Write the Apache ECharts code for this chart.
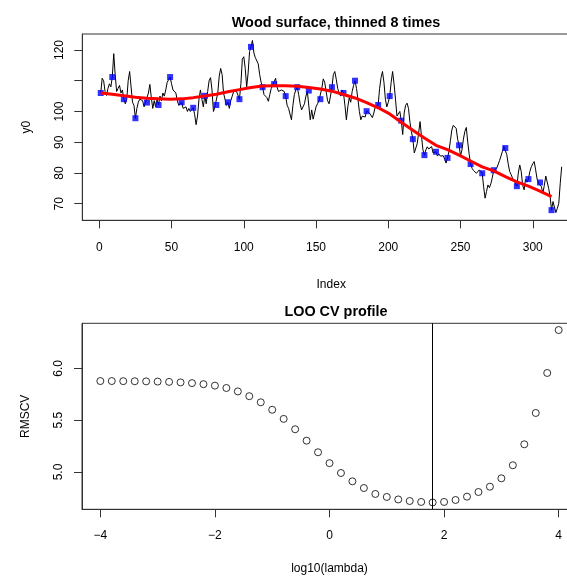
<!DOCTYPE html>
<html>
<head>
<meta charset="utf-8">
<script src="https://cdn.jsdelivr.net/npm/echarts/dist/echarts.min.js"></script>
<style>
  html, body { margin: 0; padding: 0; background: #fff; overflow: hidden; width: 567px; height: 577px; }
  /* the plotting area runs past the right edge of the page */
  #chart { width: 600px; height: 577px; }
</style>
</head>
<body>
<div id="chart"></div>
<script>
// Wood surface profile, 320 samples (index 1..320)
const y0 = [
  106.0, 110.8, 110.0, 106.5, 105.2, 107.5, 109.0, 108.0, 111.2, 118.8,
  112.0, 106.5, 107.5, 108.5, 106.0, 107.0, 104.0, 102.5, 104.0, 110.0,
  113.0, 108.0, 103.0, 102.0, 97.8, 101.0, 103.0, 104.0, 104.0, 103.5,
  101.5, 103.0, 102.9, 106.0, 108.8, 104.5, 101.0, 103.5, 101.5, 104.0,
  102.1, 105.0, 103.5, 106.0, 105.0, 107.0, 109.5, 110.0, 111.2, 109.0,
  107.0, 106.5, 106.0, 103.5, 102.0, 102.5, 103.0, 101.0, 100.5, 101.5,
  100.0, 101.0, 100.0, 100.5, 101.2, 99.0, 95.7, 98.5, 104.0, 107.0,
  104.0, 101.5, 105.1, 102.5, 106.5, 110.0, 111.0, 107.0, 100.0, 101.5,
  102.1, 106.0, 111.5, 114.0, 112.0, 106.0, 104.0, 102.0, 103.0, 101.0,
  103.5, 105.0, 106.5, 106.0, 106.5, 106.0, 104.0, 109.0, 117.0, 117.8,
  114.0, 108.0, 112.5, 119.5, 121.0, 123.1, 119.0, 117.5, 117.8, 115.5,
  112.0, 109.5, 107.9, 105.5, 105.0, 104.5, 103.3, 105.5, 107.5, 108.5,
  108.9, 110.8, 108.0, 106.5, 106.0, 107.0, 107.5, 106.5, 105.0, 102.0,
  101.0, 100.5, 97.3, 102.0, 105.5, 107.0, 107.9, 105.5, 102.5, 100.5,
  100.0, 102.5, 105.0, 106.5, 106.8, 97.3, 100.5, 97.5, 99.5, 101.5,
  102.5, 103.5, 104.0, 107.5, 110.6, 109.5, 106.5, 103.5, 102.5, 105.0,
  107.9, 112.0, 113.0, 110.5, 107.5, 106.0, 105.0, 107.0, 106.0, 102.0,
  97.3, 101.5, 104.5, 103.0, 106.5, 108.5, 110.0, 107.5, 104.0, 100.0,
  97.3, 98.5, 98.8, 98.2, 100.1, 99.8, 99.5, 99.0, 98.0, 99.5,
  101.5, 102.1, 102.1, 107.5, 111.0, 113.0, 109.5, 104.0, 101.5, 103.0,
  105.0, 109.5, 113.0, 109.0, 104.0, 98.5, 98.9, 100.0, 97.0, 92.5,
  99.5, 102.0, 102.7, 101.0, 96.5, 93.5, 91.0, 86.5, 85.9, 89.5,
  93.0, 96.7, 91.9, 87.5, 85.8, 87.5, 88.5, 87.8, 88.0, 88.6,
  86.5, 86.5, 86.9, 85.5, 86.2, 85.5, 85.3, 85.6, 84.5, 83.2,
  84.9, 87.0, 90.5, 94.0, 95.5, 95.9, 94.5, 91.0, 89.0, 85.5,
  87.5, 91.0, 93.5, 94.8, 90.0, 86.0, 82.9, 81.5, 80.8, 80.5,
  79.9, 80.5, 81.0, 80.5, 79.9, 75.5, 71.8, 74.0, 76.1, 75.2,
  76.5, 78.5, 80.9, 81.0, 81.5, 82.1, 84.0, 85.5, 87.0, 88.6,
  88.1, 86.0, 83.0, 80.5, 79.5, 78.3, 78.5, 76.7, 75.7, 80.0,
  82.6, 80.5, 76.0, 74.5, 78.0, 77.0, 78.0, 80.5, 82.0, 83.0,
  83.7, 81.0, 78.0, 76.7, 76.9, 75.5, 73.4, 76.0, 79.0, 79.4,
  75.0, 72.3, 67.9, 70.7, 70.7, 67.1, 68.5, 70.1, 76.5, 82.0
];

// Every 8th sample is kept (indices 1, 9, 17, ...)
const thinStep = 8;

// Smoothed curve evaluated at the thinned indices
const ySmooth = [
  106.0, 105.6, 105.1, 104.6, 104.3, 104.1, 104.0, 104.1, 104.5, 105.0,
  105.6, 106.4, 107.1, 107.8, 108.3, 108.4, 108.4, 108.2, 107.8, 107.3,
  106.6, 105.5, 104.4, 102.9, 101.2, 99.2, 96.5, 93.9, 91.4, 89.0,
  87.6, 85.8, 83.9, 82.0, 80.7, 78.8, 77.1, 75.7, 74.1, 72.3
];

// Leave-one-out cross-validation profile
const logLambda = [
  -4.0, -3.8, -3.6, -3.4, -3.2, -3.0, -2.8, -2.6, -2.4, -2.2,
  -2.0, -1.8, -1.6, -1.4, -1.2, -1.0, -0.8, -0.6, -0.4, -0.2,
  0.0, 0.2, 0.4, 0.6, 0.8, 1.0, 1.2, 1.4, 1.6, 1.8,
  2.0, 2.2, 2.4, 2.6, 2.8, 3.0, 3.2, 3.4, 3.6, 3.8, 4.0
];
const rmscv = [
  5.877, 5.877, 5.876, 5.875, 5.874, 5.872, 5.869, 5.864, 5.857, 5.847,
  5.833, 5.810, 5.777, 5.731, 5.672, 5.600, 5.512, 5.412, 5.302, 5.190,
  5.085, 4.990, 4.910, 4.845, 4.788, 4.759, 4.735, 4.720, 4.711, 4.706,
  4.711, 4.730, 4.762, 4.807, 4.858, 4.939, 5.065, 5.267, 5.569, 5.955, 6.369
];
const bestLogLambda = 1.8;

// Axis tick positions
const indexTicks = [0, 50, 100, 150, 200, 250, 300];
const y0Ticks = [70, 80, 90, 100, 110, 120];
const y0Labels = [70, 80, 90, 100, 120];
const lambdaTicks = [-4, -2, 0, 2, 4];
const rmsTicks = [5.0, 5.5, 6.0];

const lineData = y0.map((v, k) => [k + 1, v]);
const thinIdx = [];
for (let i = 1; i <= y0.length; i += thinStep) thinIdx.push(i);
const thinData = thinIdx.map(i => [i, y0[i - 1]]);
const smoothData = thinIdx.slice(0, ySmooth.length).map((i, k) => [i, ySmooth[k]]);
const cvData = logLambda.map((x, k) => [x, rmscv[k]]);

const FONT = '"Liberation Sans", Arial, Helvetica, sans-serif';
const INK = '#000';
const FRAME = '#333';

// typographic minus for negative tick labels
const signed = v => String(v).replace('-', '\u2212');

function xAxisCfg(grid, min, max, ticks, name, nameGap, margin) {
  return {
    gridIndex: grid, type: 'value', min: min, max: max,
    name: name, nameLocation: 'middle', nameGap: nameGap,
    nameTextStyle: { fontSize: 12, color: INK, fontFamily: FONT },
    axisLine: { show: true, onZero: false, lineStyle: { color: FRAME, width: 1 } },
    axisTick: { show: true, customValues: ticks, length: 8, lineStyle: { color: FRAME, width: 1 } },
    axisLabel: { customValues: ticks, margin: margin, fontSize: 12, color: INK, fontFamily: FONT, formatter: signed },
    splitLine: { show: false }
  };
}
function yAxisCfg(grid, min, max, ticks, labels, name, fmt) {
  return {
    gridIndex: grid, type: 'value', min: min, max: max,
    name: name, nameLocation: 'middle', nameGap: 50,
    nameTextStyle: { fontSize: 12, color: INK, fontFamily: FONT },
    axisLine: { show: true, onZero: false, lineStyle: { color: FRAME, width: 1 } },
    axisTick: { show: true, customValues: ticks, length: 8, lineStyle: { color: FRAME, width: 1 } },
    axisLabel: { customValues: labels, rotate: 90, margin: 17, fontSize: 12, color: INK, fontFamily: FONT, formatter: fmt },
    splitLine: { show: false }
  };
}

const chart = echarts.init(document.getElementById('chart'), null, { renderer: 'canvas' });
chart.setOption({
  animation: false,
  backgroundColor: '#fff',
  textStyle: { fontFamily: FONT },
  title: [
    { text: 'Wood surface, thinned 8 times', left: 331, top: 11, textAlign: 'center',
      textStyle: { fontSize: 14.4, fontWeight: 'bold', color: INK, fontFamily: FONT } },
    { text: 'LOO CV profile', left: 331, top: 300, textAlign: 'center',
      textStyle: { fontSize: 14.4, fontWeight: 'bold', color: INK, fontFamily: FONT } }
  ],
  grid: [
    { left: 82.3, top: 34, width: 497.8, height: 186.3, show: true, borderColor: FRAME, borderWidth: 1 },
    { left: 82, top: 323.3, width: 495, height: 186, show: true, borderColor: FRAME, borderWidth: 1 }
  ],
  xAxis: [
    xAxisCfg(0, -11.76, 332.76, indexTicks, 'Index', 58, 21),
    xAxisCfg(1, -4.32, 4.32, lambdaTicks, 'log10(lambda)', 53, 20)
  ],
  yAxis: [
    yAxisCfg(0, 64.6, 125.2, y0Ticks, y0Labels, 'y0', v => String(v)),
    yAxisCfg(1, 4.640, 6.434, rmsTicks, rmsTicks, 'RMSCV', v => Number(v).toFixed(1))
  ],
  series: [
    { type: 'line', xAxisIndex: 0, yAxisIndex: 0, data: lineData, showSymbol: false, silent: true,
      lineStyle: { color: '#000', width: 1 }, z: 2 },
    { type: 'scatter', xAxisIndex: 0, yAxisIndex: 0, data: thinData, symbol: 'rect', symbolSize: 6, silent: true,
      itemStyle: { color: '#0000ff' }, z: 3 },
    { type: 'line', xAxisIndex: 0, yAxisIndex: 0, data: smoothData, showSymbol: false, silent: true,
      lineStyle: { color: '#ff0000', width: 3 }, z: 4 },
    { type: 'scatter', xAxisIndex: 1, yAxisIndex: 1, data: cvData, symbol: 'circle', symbolSize: 7, silent: true,
      itemStyle: { color: 'rgba(0,0,0,0)', borderColor: '#000', borderWidth: 1 }, z: 3,
      markLine: { silent: true, symbol: 'none', label: { show: false },
        lineStyle: { color: '#000', width: 1, type: 'solid' },
        data: [{ xAxis: bestLogLambda }] } }
  ]
});
</script>
</body>
</html>
